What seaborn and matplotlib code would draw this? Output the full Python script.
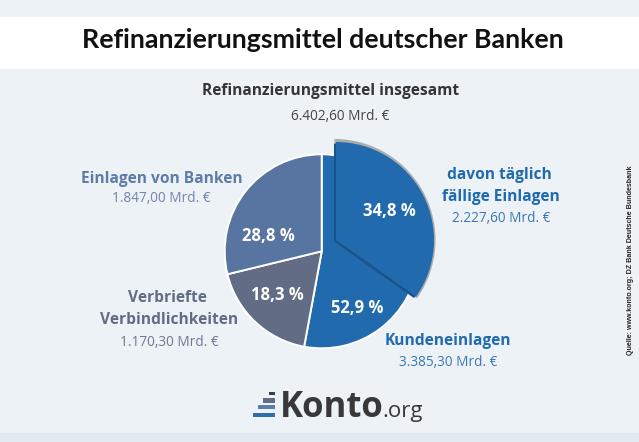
import matplotlib
matplotlib.use("Agg")
import matplotlib.pyplot as plt
import matplotlib.patches as mpatches
import seaborn as sns

# Data (shares in percent of the total)
segments = ["Kundeneinlagen", "Verbriefte Verbindlichkeiten", "Einlagen von Banken"]
shares = [52.9, 18.3, 28.8]
sub_share = 34.8  # davon taeglich faellige Einlagen
amounts = ["3.385,30 Mrd. €", "1.170,30 Mrd. €", "1.847,00 Mrd. €"]
sub_amount = "2.227,60 Mrd. €"
total_amount = "6.402,60 Mrd. €"

sns.set_theme(style="white")
plt.rcParams["font.family"] = ["Open Sans", "DejaVu Sans"]

colors = sns.color_palette(["#226aae", "#626c85", "#5874a0"])
bg = "#edf2f6"
dark = "#353535"

fig = plt.figure(figsize=(6.39, 4.42), dpi=100, facecolor=bg)
ax = fig.add_axes([0, 0, 1, 1])


def Y(py):
    return 442 - py


# main pie
main_wedges, _ = ax.pie(shares, colors=colors, startangle=90, counterclock=False, radius=97,
                        center=(321.7, Y(251.3)), wedgeprops=dict(edgecolor="white", linewidth=1.4))


def pulled_slice(color, radius, cx, cy):
    wedges, _ = ax.pie([sub_share / 100], colors=[color], startangle=90, counterclock=False, normalize=False,
                       radius=radius, center=(cx, Y(cy)), wedgeprops=dict(edgecolor="none", linewidth=0))
    return wedges[0]


# pulled out slice: grey rim, dark shadow on the pie only, then the slice itself
pulled_slice("#a9acae", 101, 334.5, 240)
shadow = pulled_slice("#1b5389", 98, 334, 241.5)
shadow.set_clip_path(main_wedges[0])
pulled_slice(colors[0], 98, 336, 240)

ax.set_xlim(0, 639)
ax.set_ylim(0, 442)
ax.set_aspect("auto")
ax.axis("off")

# bands
fig.patches.append(mpatches.Rectangle((0, Y(69) / 442), 1, 52 / 442, transform=fig.transFigure,
                                      facecolor="white", edgecolor="none", zorder=-1))
fig.patches.append(mpatches.Rectangle((0, 0), 1, 9 / 442, transform=fig.transFigure,
                                      facecolor="#e3e9f1", edgecolor="none", zorder=-1))


def label(x, py, s, size, color, bold=False, **kw):
    # va center sits about 2 px high for these fonts
    ax.text(x, Y(py + 2), s, fontsize=size, color=color, fontweight="bold" if bold else "normal",
            ha="center", va="center", **kw)


def pct(v):
    return f"{v:.1f}".replace(".", ",") + " %"


label(322.5, 38, "Refinanzierungsmittel deutscher Banken", 19.3, "#111111", True, family="Lato")
label(331, 89, "Refinanzierungsmittel insgesamt", 11.2, dark, True)
label(340, 114, total_amount, 9.8, "#444444")

# percent labels on the slices
label(389, 209, pct(sub_share), 12, "white", True)
label(357.5, 306, pct(shares[0]), 12, "white", True)
label(277.5, 293, pct(shares[1]), 12, "white", True)
label(268, 234, pct(shares[2]), 12, "white", True)

# outer labels
label(161.5, 177, segments[2], 11.2, "#5e7ca9", True)
label(161.5, 197, amounts[2], 9.8, "#6f86ad")

label(167, 296, "Verbriefte", 11.2, "#626c85", True)
label(169.5, 318, "Verbindlichkeiten", 11.2, "#626c85", True)
label(169, 341, amounts[1], 9.8, "#6f7890")

label(448, 339, segments[0], 11.2, "#226aae", True)
label(448.5, 360, amounts[0], 9.8, "#3a78b4")

label(499.6, 173, "davon täglich", 11.2, "#226aae", True)
label(500.6, 195, "fällige Einlagen", 11.2, "#226aae", True)
label(501, 217, sub_amount, 9.8, "#3a78b4")

ax.text(631, Y(260), "Quelle: www.konto.org; DZ Bank Deutsche Bundesbank", fontsize=5.1, fontweight="bold",
        family="Liberation Sans", color="#222222", rotation=90, ha="center", va="center")

# logo
for x0, x1, y0, y1, c in [(253, 275, 412.7, 416.7, "#2e6db0"), (258, 275, 405, 409.3, "#5d7ca8"),
                          (263, 275, 398, 402.7, "#626c85"), (269, 275, 391.7, 395.3, "#3d3d45")]:
    ax.add_patch(mpatches.Rectangle((x0, Y(y1)), x1 - x0, y1 - y0, facecolor=c, edgecolor="none"))
ax.text(280, Y(417), "Konto", fontsize=25, fontweight="bold", color="#383838", ha="left", va="baseline")
ax.text(382, Y(417), ".org", fontsize=16, color="#383838", ha="left", va="baseline")

fig.savefig("out.png", dpi=100, facecolor=bg)
